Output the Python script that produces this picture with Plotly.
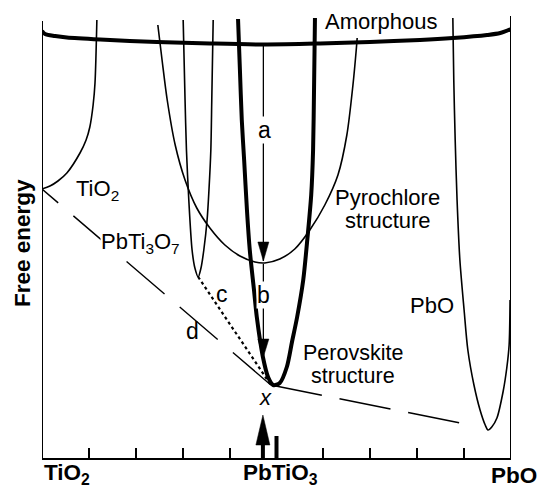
import plotly.graph_objects as go

# Composition axis: mol % PbO (0 = TiO2, 50 = PbTiO3, 100 = PbO)
# Free energy: arbitrary units, 0 at the composition axis

amorphous_x = [0, 0.64, 2.8, 5.3, 12.4, 24.5, 35.8, 48.0, 59.3, 69.9, 80.6, 87.6, 94.9, 97.7, 100]
amorphous_g = [427, 424, 422, 420.5, 418.5, 416, 414.5, 413.5, 414.5, 416, 418, 420, 423, 425, 429]

tio2_x = [0, 1.7, 3.4, 5.3, 8.1, 9.4, 10.2, 10.9, 11.3, 11.7]
tio2_g = [269, 272, 277, 285, 305, 318, 331, 353, 375, 438]

pbti3o7_x = [30.1, 30.5, 30.8, 31.3, 32.0, 32.6, 33.3, 33.9, 34.5, 35.2, 35.6, 36.0, 36.2, 36.5]
pbti3o7_g = [438, 358, 308, 258, 208, 190, 181, 190, 208, 238, 268, 308, 358, 438]

pyrochlore_x = [24.7, 25.6, 26.7, 28.4, 30.5, 33.0, 35.8, 39.0, 42.2, 45.4, 47.5, 50.7,
                53.9, 57.1, 60.3, 63.1, 65.0, 66.3, 67.0, 67.2]
pyrochlore_g = [433, 398, 358, 313, 278, 250, 230, 213, 202, 196, 195, 199,
                209, 228, 253, 283, 323, 373, 408, 420]

perovskite_x = [41.8, 42.2, 42.6, 43.1, 43.7, 44.3, 45.2, 45.8, 47.1, 48.2, 49.3,
                50.7, 52.2, 53.3, 54.4, 55.7, 56.5, 57.4, 57.8, 58.0, 58.2]
perovskite_g = [439, 388, 338, 298, 248, 208, 168, 141, 101, 81, 73,
                75, 91, 116, 141, 178, 215, 263, 308, 368, 440]

pbo_x = [87.6, 87.8, 88.1, 88.5, 89.1, 90.0, 90.8, 92.1, 93.4, 94.5, 95.1,
         95.9, 97.0, 98.3, 99.1, 99.6, 99.8]
pbo_g = [440, 378, 318, 258, 198, 148, 108, 73, 48, 33, 28,
         31, 40, 66, 90, 113, 158]

# common tangents and metastable path
tangent_left_x = [48.8, 0]
tangent_left_g = [73, 269]
tangent_right_x = [48.8, 90.2]
tangent_right_g = [73, 34]
path_c_x = [33.3, 48.8]
path_c_g = [181, 73]

# transformation arrows a (amorphous -> pyrochlore), b (pyrochlore -> perovskite)
arrow_a_x = [47.2, 47.2]
arrow_a_g = [414, 197]
arrow_b_x = [47.2, 47.2]
arrow_b_g = [194, 101]
# composition x marker arrow
arrow_x_x = [47.1, 47.1]
arrow_x_g = [0, 43]

# end-member / compound compositions on the axis
comp_labels = ["TiO<sub>2</sub>", "PbTiO<sub>3</sub>", "PbO"]
comp_values = [0, 50, 100]
tick_values = list(range(0, 101, 10))

FONT = "Liberation Sans, Arial, Helvetica, sans-serif"
W, H = 539, 491
X_DOMAIN = [42 / W, 511 / W]
Y_DOMAIN = [33 / H, 1.0]
X_RANGE = [0, 100]
Y_RANGE = [0, 458]
PX_PER_X = (X_DOMAIN[1] - X_DOMAIN[0]) * W / (X_RANGE[1] - X_RANGE[0])
PX_PER_G = (Y_DOMAIN[1] - Y_DOMAIN[0]) * H / (Y_RANGE[1] - Y_RANGE[0])


def to_paper_x(x):
    return X_DOMAIN[0] + (x - X_RANGE[0]) / (X_RANGE[1] - X_RANGE[0]) * (X_DOMAIN[1] - X_DOMAIN[0])


def head(x_tip, g_tip, direction, length_px, half_width_px):
    """Triangular arrow head; direction -1 points down, +1 points up."""
    base = g_tip - direction * length_px / PX_PER_G
    dx = half_width_px / PX_PER_X
    return [x_tip, x_tip - dx, x_tip + dx, x_tip], [g_tip, base, base, g_tip]


fig = go.Figure()


def curve(x, y, width, dash="solid", shape="spline"):
    fig.add_trace(go.Scatter(x=x, y=y, mode="lines", hoverinfo="skip",
                             line=dict(color="black", width=width, dash=dash,
                                       shape=shape, smoothing=0.8)))


def filled(x, y):
    fig.add_trace(go.Scatter(x=x, y=y, mode="lines", fill="toself", fillcolor="black",
                             hoverinfo="skip", line=dict(color="black", width=0.5)))


curve(tio2_x, tio2_g, 1.6)
curve(pbti3o7_x, pbti3o7_g, 1.6)
curve(pyrochlore_x, pyrochlore_g, 1.6)
curve(pbo_x, pbo_g, 1.6)
curve(perovskite_x, perovskite_g, 4)
curve(amorphous_x, amorphous_g, 4)

curve(tangent_left_x, tangent_left_g, 1.4, dash="50px,20px", shape="linear")
curve(tangent_right_x, tangent_right_g, 1.6, dash="52px,18px", shape="linear")
curve(path_c_x, path_c_g, 2.2, dash="3px,3px", shape="linear")

# arrows
curve(arrow_a_x, arrow_a_g, 1.3, shape="linear")
hx, hy = head(arrow_a_x[-1], arrow_a_g[-1], -1, 19, 5.5)
filled(hx, hy)
curve(arrow_b_x, arrow_b_g, 1.3, shape="linear")
hx, hy = head(arrow_b_x[-1], arrow_b_g[-1], -1, 18, 5.5)
filled(hx, hy)
curve(arrow_x_x, [arrow_x_g[0], arrow_x_g[1] - 20], 4, shape="linear")
hx, hy = head(arrow_x_x[-1], arrow_x_g[-1], 1, 30, 7)
filled(hx, hy)

# heavier tick at the PbTiO3 composition
curve([comp_values[1], comp_values[1]], [0, 22], 4, shape="linear")

# side frame lines (no top border)
fig.add_shape(type="line", xref="x", yref="y", x0=0, x1=0, y0=0, y1=437,
              line=dict(color="black", width=2))
fig.add_shape(type="line", xref="x", yref="y", x0=100, x1=100, y0=0, y1=442,
              line=dict(color="black", width=2))


def label(text, x, y, size=22, xanchor="center", bg=None, angle=0, xref="x", yref="y"):
    fig.add_annotation(text=text, x=x, y=y, xref=xref, yref=yref, showarrow=False,
                       xanchor=xanchor, yanchor="middle", textangle=angle,
                       font=dict(family=FONT, size=size, color="black"),
                       bgcolor=bg, borderpad=0)


label("Amorphous", 72.3, 436.5)
label("TiO<sub>2</sub>", 7.0, 268.5, xanchor="left")
label("PbTi<sub>3</sub>O<sub>7</sub>", 12.4, 215.5, xanchor="left", bg="white")
label("Pyrochlore", 73.6, 260.5)
label("structure", 73.7, 237.5)
label("PbO", 83.2, 152.5)
label("Perovskite", 66.4, 105.5, size=21.5)
label("structure", 66.3, 82, size=21.5)
label("a", 47.4, 328.5, size=23, bg="white")
label("b", 47.2, 163.5, size=23, bg="white")
label("c", 38.4, 164, size=23)
label("d", 32.0, 127.5, size=23)
label("<i>x</i>", 47.7, 60.5, size=22)

# axis titles sit outside the data range, so they are placed in paper units
label("<b>Free energy</b>", 22 / W, 1 - 243 / H, size=22.5, angle=-90,
      xref="paper", yref="paper")
label("<b>" + comp_labels[0] + "</b>", to_paper_x(comp_values[0]) + 1 / W, 1 - 474 / H,
      size=22.5, xanchor="left", xref="paper", yref="paper")
label("<b>" + comp_labels[1] + "</b>", to_paper_x(comp_values[1]) - 35 / W, 1 - 474 / H,
      size=22.5, xanchor="left", xref="paper", yref="paper")
label("<b>" + comp_labels[2] + "</b>", to_paper_x(comp_values[2]) + 27 / W, 1 - 475 / H,
      size=22.5, xanchor="right", xref="paper", yref="paper")

fig.update_layout(
    width=W, height=H, margin=dict(l=0, r=0, t=0, b=0),
    paper_bgcolor="white", plot_bgcolor="white", showlegend=False,
    xaxis=dict(domain=X_DOMAIN, range=X_RANGE, showline=True, linecolor="black",
               linewidth=2, ticks="inside", ticklen=10, tickwidth=1.5,
               tickcolor="black", tickvals=tick_values, showticklabels=False,
               showgrid=False, zeroline=False, fixedrange=True),
    yaxis=dict(domain=Y_DOMAIN, range=Y_RANGE, visible=False, fixedrange=True),
)

fig.write_html("out.html")
